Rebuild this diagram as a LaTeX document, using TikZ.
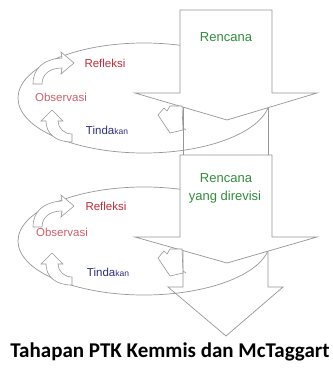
\documentclass[tikz,border=0pt]{standalone}
\usepackage{fontspec}
\setmainfont{Liberation Sans}
\newfontfamily\titlefont{Carlito}
\definecolor{linegray}{RGB}{150,150,150}
\definecolor{plangreen}{RGB}{50,140,60}
\definecolor{reflred}{RGB}{200,40,55}
\definecolor{obspink}{RGB}{205,95,105}
\definecolor{actblue}{RGB}{45,45,130}
\begin{document}
\begin{tikzpicture}[x=1pt,y=-1pt,
  outline/.style={draw=linegray, line width=0.7pt},
  bigarrow/.style={draw=linegray, fill=white, line width=0.7pt, line join=miter},
  cyc/.style={draw=linegray, fill=white, line width=0.6pt},
  lbl/.style={inner sep=0pt, font=\fontsize{11.5}{12}\selectfont},
  plan/.style={inner sep=0pt, text=plangreen, font=\fontsize{13}{14}\selectfont}]
\useasboundingbox (0,0) rectangle (332,369);
% ---------- first cycle ----------
\draw[outline] (144,98) ellipse [x radius=126, y radius=55];
\draw[outline] (183,95) -- (183,160) (268,95) -- (268,160);
\draw[bigarrow] (180,10) -- (272,10) -- (272,93) -- (317,93) -- (227,120) -- (135,93) -- (180,93) -- cycle;
% ---------- second cycle ----------
\draw[bigarrow] (183,230) -- (183,287) -- (168,287) -- (226,336) -- (283,287) -- (268,287) -- (268,230);
\draw[outline] (144,241) ellipse [x radius=126, y radius=54];
\draw[bigarrow] (180,155) -- (272,155) -- (272,237) -- (317,237) -- (227,263) -- (135,237) -- (180,237) -- cycle;
% ---------- small cycle arrows ----------
\foreach \dy in {0,143}{
  \begin{scope}[yshift=-\dy pt]
  % observasi -> refleksi
  \draw[cyc] (33,84) .. controls (33,68) and (44,59) .. (62,58) -- (61,52) -- (74,63) -- (61,74) -- (62,68)
     .. controls (50,68) and (42,74) .. (42,84) -- cycle;
  % tindakan -> observasi
  \draw[cyc] (72,142) .. controls (56,142) and (46,134) .. (46,121) -- (41,121) -- (52,110) -- (63,121) -- (58,121)
     .. controls (58,128) and (64,134) .. (72,134) -- cycle;
  % rencana -> tindakan
  \draw[cyc] (158,115) -- (164,108) -- (167,111) -- (170,106) -- (182,106) -- (183,130) -- (170,133) -- cycle;
  \draw[outline, line width=0.6pt] (183,128) -- (186,130);
  \end{scope}
}
% ---------- labels ----------
\node[plan] (r1) at (226,37) {Rencana};
\node[lbl, text=reflred] (f1) at (105,63) {Refleksi};
\node[lbl, text=obspink] (o1) at (61,97) {Observasi};
\node[lbl, text=actblue] (t1) at (107,130) {Tinda{\fontsize{8.5}{9}\selectfont kan}};
\node[plan] (r2) at (226,178) {Rencana};
\node[plan] (r3) at (225,197) {yang direvisi};
\node[lbl, text=reflred] (f2) at (106,206) {Refleksi};
\node[lbl, text=obspink] (o2) at (62,232) {Observasi};
\node[lbl, text=actblue] (t2) at (108,272) {Tinda{\fontsize{8.5}{9}\selectfont kan}};
\node[inner sep=0pt, font=\titlefont\bfseries\fontsize{21}{23}\selectfont] (title) at (170,352) {Tahapan PTK Kemmis dan McTaggart};
\end{tikzpicture}
\end{document}
